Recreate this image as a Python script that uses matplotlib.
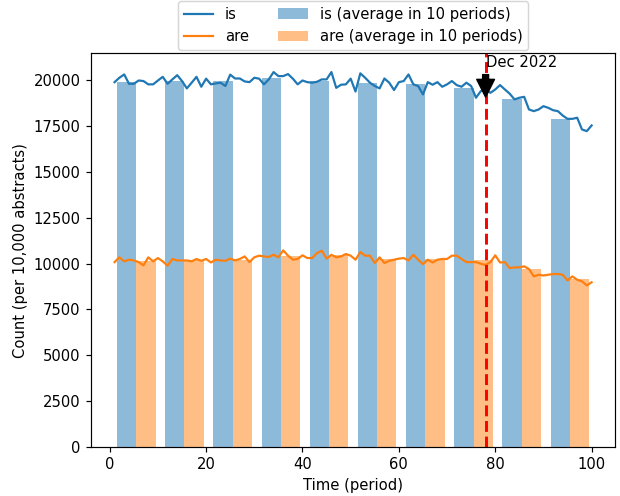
import numpy as np
import matplotlib
matplotlib.use("Agg")
import matplotlib.pyplot as plt

# Data
periods = np.arange(1, 101)

is_counts = [
    19890, 20130, 20310, 19800, 19800, 19980, 19950, 19770, 19770, 19980,
    20180, 19800, 20040, 20270, 19950, 19550, 19860, 20180, 19640, 20080,
    19770, 19820, 19860, 19680, 20300, 20090, 20090, 19930, 19890, 20130,
    20080, 19770, 20040, 20440, 20220, 20220, 20330, 20080, 19770, 19980,
    19890, 19860, 19910, 20040, 20040, 20440, 19580, 19750, 19770, 20080,
    19380, 20370, 20130, 19860, 19680, 19550, 20090, 19860, 19460, 19890,
    19950, 20310, 19770, 19680, 19220, 19890, 19750, 19890, 19640, 19770,
    19950, 19730, 19640, 19860, 19680, 19040, 19400, 19480, 19310, 19490,
    19730, 19490, 19260, 18950, 19040, 19090, 18400, 18310, 18400, 18580,
    18490, 18360, 18310, 18070, 17890, 17890, 17950, 17310, 17220, 17530,
]

are_counts = [
    10080, 10340, 10120, 10210, 10170, 10080, 9900, 10340, 10120, 10300,
    10120, 9880, 10250, 10170, 10170, 10170, 10120, 10250, 10150, 10250,
    10060, 10210, 10170, 10150, 10270, 10170, 10250, 10390, 10080, 10340,
    10430, 10390, 10360, 10480, 10340, 10720, 10430, 10210, 10250, 10450,
    10300, 10300, 10570, 10700, 10270, 10480, 10340, 10390, 10520, 10430,
    10210, 10630, 10430, 10430, 10030, 10340, 10030, 10150, 10210, 10270,
    10300, 10170, 10480, 10210, 9970, 10210, 10060, 10210, 10250, 10250,
    10430, 10430, 10250, 10080, 10080, 10080, 9990, 9930, 10080, 10450,
    10060, 10080, 9750, 9790, 9790, 9850, 9700, 9300, 9390, 9350,
    9390, 9430, 9430, 9390, 9080, 9300, 9120, 9030, 8810, 8980,
]

group_starts = np.arange(0, 100, 10)
is_avg = [19910, 19945, 19930, 20090, 19945, 19820, 19800, 19580, 18950, 17890]
are_avg = [10155, 10210, 10170, 10410, 10440, 10250, 10250, 10170, 9700, 9170]

event_period = 78
event_label = "Dec 2022"

dpi = 106
fig = plt.figure(figsize=(620 / dpi, 496 / dpi), dpi=dpi)
ax = fig.add_axes([0.1463, 0.0988, 0.8464, 0.7937])

ax.plot(periods, is_counts, color="C0", label="is")
ax.plot(periods, are_counts, color="C1", label="are")

bar_w = 4
ax.bar(group_starts + 1.5, is_avg, width=bar_w, align="edge", color="C0",
       alpha=0.5, label="is (average in 10 periods)")
ax.bar(group_starts + 1.5 + bar_w, are_avg, width=bar_w, align="edge",
       color="C1", alpha=0.5, label="are (average in 10 periods)")

ax.axvline(event_period, color="red", linestyle="--", linewidth=2)
ax.annotate(event_label, xy=(event_period, 19000), xytext=(event_period, 20700),
            arrowprops=dict(facecolor="black", shrink=0.05))

ax.set_xlabel("Time (period)")
ax.set_ylabel("Count (per 10,000 abstracts)")
ax.legend(loc="lower center", bbox_to_anchor=(0.5, 1.0084), ncol=2,
          borderaxespad=0)

fig.savefig("out.png", dpi=dpi)
